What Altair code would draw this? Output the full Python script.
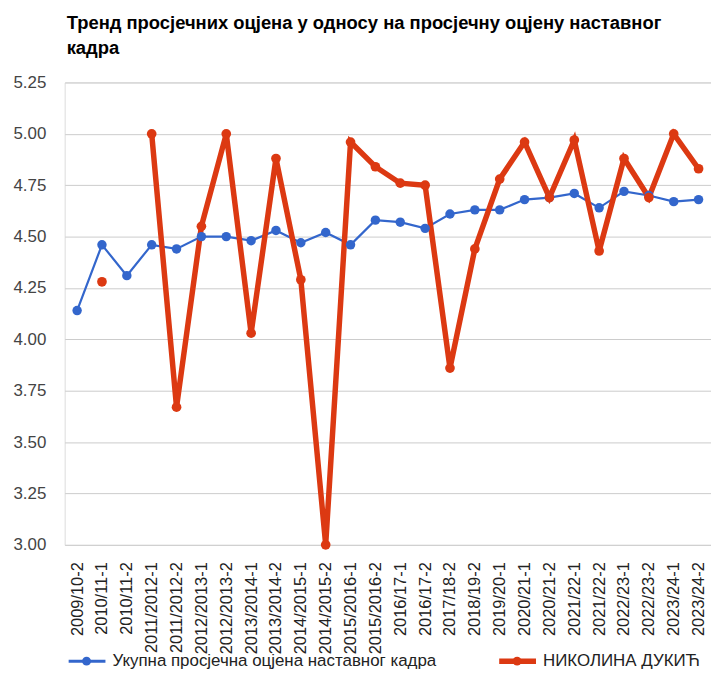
import altair as alt
import pandas as pd

categories = ["2009/10-2", "2010/11-1", "2010/11-2", "2011/2012-1", "2011/2012-2",
              "2012/2013-1", "2012/2013-2", "2013/2014-1", "2013/2014-2", "2014/2015-1",
              "2014/2015-2", "2015/2016-1", "2015/2016-2", "2016/17-1", "2016/17-2",
              "2017/18-2", "2018/19-2", "2019/20-1", "2020/21-1", "2020/21-2",
              "2021/22-1", "2021/22-2", "2022/23-1", "2022/23-2", "2023/24-1", "2023/24-2"]

overall = [4.14, 4.46, 4.31, 4.46, 4.44, 4.50, 4.50, 4.48, 4.53, 4.47,
           4.52, 4.46, 4.58, 4.57, 4.54, 4.61, 4.63, 4.63, 4.68, 4.69,
           4.71, 4.64, 4.72, 4.70, 4.67, 4.68]

teacher = [None, 4.28, None, 5.00, 3.67, 4.55, 5.00, 4.03, 4.88, 4.29,
           3.00, 4.96, 4.84, 4.76, 4.75, 3.86, 4.44, 4.78, 4.96, 4.69,
           4.97, 4.43, 4.88, 4.69, 5.00, 4.83]

series_names = ["Укупна просјечна оцјена наставног кадра", "НИКОЛИНА ДУКИЋ"]
series_colors = ["#3366cc", "#dc3912"]
y_ticks = [3.00, 3.25, 3.50, 3.75, 4.00, 4.25, 4.50, 4.75, 5.00, 5.25]

title_lines = ["Тренд просјечних оцјена у односу на просјечну оцјену наставног", "кадра"]

rows = []
for i, c in enumerate(categories):
    rows.append({"cat": c, "series": series_names[0], "value": overall[i]})
    rows.append({"cat": c, "series": series_names[1], "value": teacher[i]})
df = pd.DataFrame(rows)
legend_df = pd.DataFrame({"series": series_names})

FONT = "Liberation Sans"

x_enc = alt.X("cat:N", sort=categories, scale=alt.Scale(type="point", padding=0.5),
              axis=alt.Axis(title=None, labelAngle=-90, labelFontSize=16.5, labelColor="#222222",
                            labelFont=FONT, ticks=False, domain=False, grid=False, labelPadding=17,
                            labelOverlap=False))
y_enc = alt.Y("value:Q", scale=alt.Scale(domain=[3.0, 5.25], nice=False, zero=False),
              axis=alt.Axis(title=None, values=y_ticks, format=".2f", labelFontSize=17,
                            labelColor="#444444", labelFont=FONT, ticks=False, domain=False,
                            gridColor="#cccccc", gridWidth=1, labelPadding=19))

base = alt.Chart(df)

blue_line = base.transform_filter(alt.datum.series == series_names[0]).mark_line(
    strokeWidth=2.2, color=series_colors[0]).encode(x=x_enc, y=y_enc)
red_line = base.transform_filter(alt.datum.series == series_names[1]).mark_line(
    strokeWidth=5.5, color=series_colors[1]).encode(x=x_enc, y=y_enc)

blue_pts = base.transform_filter(alt.datum.series == series_names[0]).mark_point(
    filled=True, opacity=1, size=90, color=series_colors[0]).encode(x=x_enc, y=y_enc)
red_pts = base.transform_filter(alt.datum.series == series_names[1]).transform_filter(
    "isValid(datum.value)").mark_point(filled=True, opacity=1, size=95,
                                       color=series_colors[1]).encode(x=x_enc, y=y_enc)

# manual legend (positions in pixels relative to the plot area)
LEG_Y = 582
leg_layers = []
leg_specs = [(0, 4, 41, 22, 48, 3), (1, 437, 474, 455, 481, 5.5)]
for idx, xa, xb, xd, xt, sw in leg_specs:
    ldf = alt.Chart(legend_df).transform_filter(alt.datum.series == series_names[idx])
    leg_layers.append(ldf.mark_rule(strokeWidth=sw, color=series_colors[idx]).encode(
        x=alt.value(xa), x2=alt.value(xb), y=alt.value(LEG_Y)))
    leg_layers.append(ldf.mark_point(filled=True, opacity=1, size=80, color=series_colors[idx]).encode(
        x=alt.value(xd), y=alt.value(LEG_Y)))
    leg_layers.append(ldf.mark_text(align="left", baseline="middle", fontSize=17, font=FONT,
                                    color="#222222").encode(
        x=alt.value(xt), y=alt.value(LEG_Y), text="series:N"))

chart = alt.layer(blue_line, red_line, blue_pts, red_pts, *leg_layers).properties(
    width=650, height=465,
    title=alt.TitleParams(text=title_lines, anchor="start", frame="group", fontSize=18.5,
                          font=FONT, fontWeight="bold", color="#000000", dx=2, offset=16,
                          lineHeight=25),
    autosize=alt.AutoSizeParams(type="none"),
    padding={"left": 57, "top": 73, "right": 0, "bottom": 127},
).configure_view(stroke=None).configure(font=FONT)

chart.save("out.html", embed_options={"renderer": "svg", "actions": False})
